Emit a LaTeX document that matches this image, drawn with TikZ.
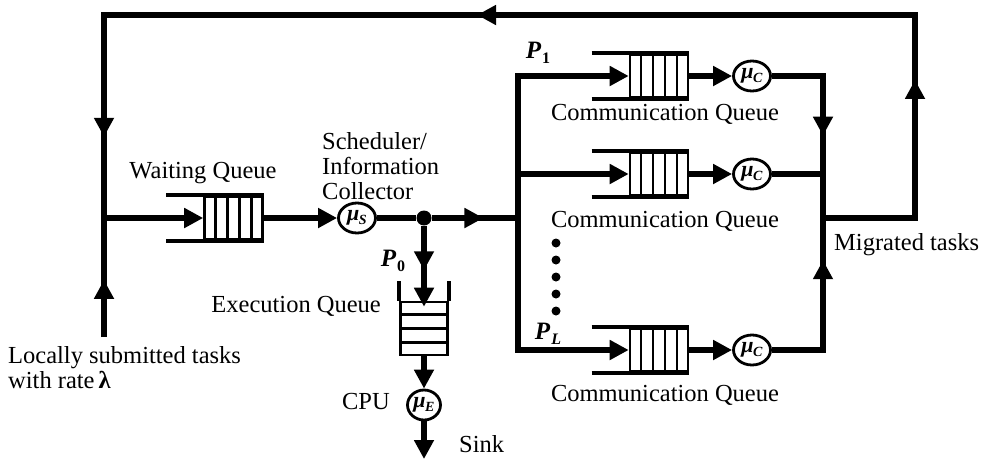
\documentclass[tikz,border=0pt]{standalone}
\usepackage{fontspec}
\setmainfont{Liberation Serif}
\usetikzlibrary{arrows.meta,decorations.markings,shapes.geometric,calc}

% service-rate symbol: italic mu with a small italic subscript
\newcommand\rateof[2]{\textit{#1}\kern-0.5pt\raisebox{-0.4ex}{\fontsize{14}{14}\selectfont\textit{#2}}}
% branch probability label
\newcommand\probof[2]{\textbf{\textit{#1}}\kern1pt\raisebox{-0.45ex}{\fontsize{16}{16}\selectfont\textbf{#2}}}

\tikzset{
  flow/.style={line width=6pt,line join=miter},
  tip/.style={-{Triangle[length=19pt,width=19pt]}},
  midtip/.style={postaction={decorate},decoration={markings,
      mark=at position #1 with {\arrow{Triangle[length=19pt,width=19pt]}}}},
  qbox/.style={draw,line width=2.6pt,minimum width=58pt,minimum height=43pt,inner sep=0pt},
  rail/.style={line width=3.6pt},
  cell/.style={line width=2.4pt},
  server/.style={draw,ellipse,line width=2.8pt,minimum width=37pt,minimum height=30pt,
      inner sep=0pt,fill=white,font=\fontsize{22}{22}\selectfont\bfseries},
  lbl/.style={font=\fontsize{24.5}{25}\selectfont,inner sep=0pt},
  plbl/.style={font=\fontsize{25}{25}\selectfont,inner sep=0pt},
  pdot/.style={circle,fill,minimum size=9pt,inner sep=0pt},
}

\begin{document}
\begin{tikzpicture}[x=1pt,y=1pt]
\useasboundingbox (0,0) rectangle (989,-459);

% ---- queues and servers
\node[qbox] (wq) at (233.5,-218) {};
\node[server] (ms) at (357,-218) {\rateof{μ}{S}};
\node[circle,fill,minimum size=15pt,inner sep=0pt] (J) at (424,-218) {};

\node[qbox] (cq1) at (659,-76) {};
\node[qbox] (cq2) at (659,-174) {};
\node[qbox] (cq3) at (659,-350) {};
\node[server] (mc1) at (752,-76) {\rateof{μ}{C}};
\node[server] (mc2) at (752,-174) {\rateof{μ}{C}};
\node[server] (mc3) at (752,-350) {\rateof{μ}{C}};

\node[draw,line width=2.6pt,minimum width=47pt,minimum height=53pt,inner sep=0pt] (eq) at (424,-328.5) {};
\node[server,minimum width=33pt,minimum height=30pt] (me) at (424,-405) {\rateof{μ}{E}};

% queue rails and cells
\foreach \q in {wq,cq1,cq2,cq3}{
  \draw[rail] ($(\q.north west)+(-37,0)$) -- (\q.north east);
  \draw[rail] ($(\q.south west)+(-37,0)$) -- (\q.south east);
  \foreach \k in {1,...,4}
    \draw[cell] ($(\q.north west)!\k/5!(\q.north east)$) -- ($(\q.south west)!\k/5!(\q.south east)$);
}
\draw[rail] (eq.north west) -- ++(0,20);
\draw[rail] (eq.north east) -- ++(0,20);
\foreach \k in {1,2,3}
  \draw[cell] ($(eq.north west)!\k/4!(eq.south west)$) -- ($(eq.north east)!\k/4!(eq.south east)$);

% ---- corner points of the connectors
\coordinate (L0) at (104,-337);
\coordinate (LM) at (104,-218);
\coordinate (LT) at (104,-15);
\coordinate (RT) at (915,-15);
\coordinate (RM) at (915,-218);
\coordinate (MM) at (823,-218);
\coordinate (MT) at (823,-76);
\coordinate (MB) at (823,-350);
\coordinate (M2) at (823,-174);
\coordinate (BT) at (518,-76);
\coordinate (BM) at (518,-218);
\coordinate (B2) at (518,-174);
\coordinate (BB) at (518,-350);
\coordinate (sink) at (424,-459);

% ---- feedback loop of migrated tasks
\draw[flow] (MM) -- (RM) -- (RT) -- (LT) -- (L0);
\draw[flow,midtip=0.68] (RM) -- (RT);
\draw[flow,midtip=0.54] (RT) -- (LT);
\draw[flow,midtip=0.6] (LT) -- (LM);
\draw[flow,midtip=0.48] (L0) -- (LM);

% ---- main flow
\draw[flow,tip] (LM) -- (wq.west);
\draw[flow,tip] (wq.east) -- (ms.west);
\draw[flow] (ms.east) -- (J);
\draw[flow,midtip=0.6] (J) -- (BM);
\draw[flow,tip,midtip=0.55] (J) -- ([yshift=-6pt]eq.north);
\draw[flow,tip] (eq.south) -- (me.north);
\draw[flow,tip] (me.south) -- (sink);

% ---- branches to the communication queues
\draw[flow,{Triangle[length=19pt,width=19pt]}-{Triangle[length=19pt,width=19pt]}]
  (cq1.west) -- (BT) -- (BB) -- (cq3.west);
\draw[flow,tip] (B2) -- (cq2.west);
\draw[flow,tip] (cq1.east) -- (mc1.west);
\draw[flow,tip] (cq2.east) -- (mc2.west);
\draw[flow,tip] (cq3.east) -- (mc3.west);

% ---- merge of the migrated tasks
\draw[flow] (mc1.east) -- (MT) -- (MB) -- (mc3.east);
\draw[flow] (mc2.east) -- (M2);
\draw[flow,midtip=0.42] (MT) -- (MM);
\draw[flow,midtip=0.68] (MB) -- (MM);

% ---- dots between the branches
\foreach \yy in {243,260,277,294,311}
  \node[pdot] at (556,-\yy) {};

% ---- labels
\node[lbl] (twq) at (203,-173) {Waiting Queue};
\node[lbl,align=left,anchor=north west] (tsch) at (322,-132) {Scheduler/\\Information\\Collector};
\node[lbl] (tc1) at (665,-114) {Communication Queue};
\node[lbl] (tc2) at (665,-221) {Communication Queue};
\node[lbl] (tc3) at (665,-395) {Communication Queue};
\node[lbl,anchor=west] (tmig) at (834,-245) {Migrated tasks};
\node[lbl,anchor=east] (texe) at (381,-306) {Execution Queue};
\node[lbl,anchor=east] (tcpu) at (390,-402) {CPU};
\node[lbl,anchor=west] (tsink) at (459,-444) {Sink};
\node[lbl,align=left,anchor=north west] (tloc) at (8,-346) {Locally submitted tasks\\with rate\,\textbf{λ}};
\node[plbl] (p0) at (393,-261) {\probof{P}{0}};
\node[plbl] (p1) at (538,-53) {\probof{P}{1}};
\node[plbl] (pl) at (548,-334) {\probof{P}{\textit{L}}};
\end{tikzpicture}
\end{document}
